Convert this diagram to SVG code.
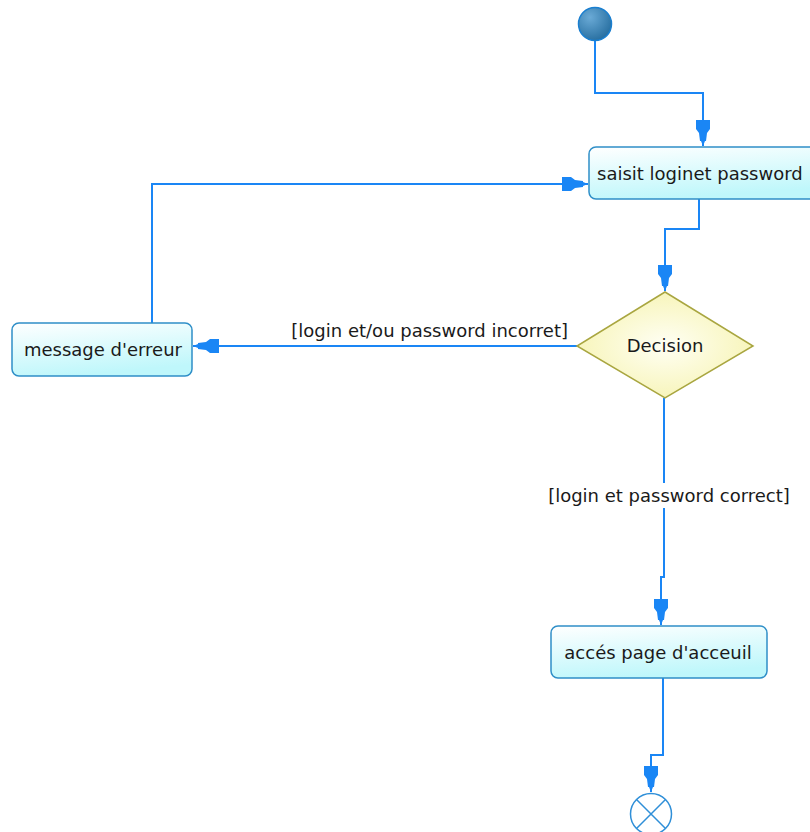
<svg xmlns="http://www.w3.org/2000/svg" width="810" height="832" viewBox="0 0 810 832">
  <defs>
    <linearGradient id="actFill" x1="0" y1="0" x2="0.3" y2="1">
      <stop offset="0" stop-color="#ffffff"/>
      <stop offset="1" stop-color="#bff7fb"/>
    </linearGradient>
    <radialGradient id="decFill" cx="0.5" cy="0.5" r="0.6">
      <stop offset="0" stop-color="#fffff4"/>
      <stop offset="1" stop-color="#f6f3b0"/>
    </radialGradient>
    <radialGradient id="startFill" cx="0.35" cy="0.3" r="0.8">
      <stop offset="0" stop-color="#6aaad6"/>
      <stop offset="1" stop-color="#226a9c"/>
    </radialGradient>
    <marker id="arrow" markerUnits="userSpaceOnUse" markerWidth="30" markerHeight="18" viewBox="-28 -9 30 18" refX="0" refY="0" orient="auto">
      <path d="M0,0 L-5,-2 L-5,-3 L-13,-4 L-17,-7 L-26,-7 L-26,7 L-17,7 L-13,4 L-5,3 L-5,2 Z" fill="#1a86f5"/>
    </marker>
    <style>
      .act { fill: url(#actFill); stroke: #2f8fc8; stroke-width: 1.5; }
      .lbl { font-family: "DejaVu Sans", "Liberation Sans", sans-serif; font-size: 18px; fill: #1a1a1a; }
      .flow { fill: none; stroke: #1a86f5; stroke-width: 2; marker-end: url(#arrow); }
    </style>
  </defs>

  <!-- connectors -->
  <g id="connectors">
    <path class="flow" d="M595,41 V93 H703 V146"/>
    <path class="flow" d="M699,199 V229 H665 V291"/>
    <path class="flow" d="M577,346 H193"/>
    <path class="flow" d="M152,323 V184 H588"/>
    <path class="flow" d="M664,398 V577 H661 V625"/>
    <path class="flow" d="M663,678 V755 H651 V792"/>
    <text class="lbl" x="568" y="337" text-anchor="end">[login et/ou password incorret]</text>
    <rect x="544" y="483" width="250" height="25" fill="#ffffff"/>
    <text class="lbl" x="669" y="502" text-anchor="middle">[login et password correct]</text>
  </g>

  <!-- initial node -->
  <g id="start">
    <circle cx="595" cy="24" r="16.5" fill="url(#startFill)" stroke="#1a7fd0" stroke-width="1.5"/>
  </g>

  <!-- activity: saisit login et password -->
  <g id="saisit">
    <rect class="act" x="589" y="147" width="230" height="52" rx="7"/>
    <text class="lbl" x="597" y="180">saisit loginet password</text>
  </g>

  <!-- decision -->
  <g id="decision">
    <polygon points="665,292 753,346 665,398 577,346" fill="url(#decFill)" stroke="#a9a640" stroke-width="1.5"/>
    <text class="lbl" x="665" y="352" text-anchor="middle">Decision</text>
  </g>

  <!-- activity: message d'erreur -->
  <g id="erreur">
    <rect class="act" x="12" y="323" width="180" height="53" rx="7"/>
    <text class="lbl" x="103" y="356" text-anchor="middle">message d'erreur</text>
  </g>

  <!-- activity: accès page d'accueil -->
  <g id="accueil">
    <rect class="act" x="551" y="626" width="216" height="52" rx="7"/>
    <text class="lbl" x="658" y="659" text-anchor="middle">accés page d'acceuil</text>
  </g>

  <!-- final node -->
  <g id="end">
    <circle cx="651" cy="814" r="20.5" fill="#ffffff" stroke="#2f8fd8" stroke-width="1.5"/>
    <path d="M636.5,799.5 L665.5,828.5 M665.5,799.5 L636.5,828.5" stroke="#2f8fd8" stroke-width="1.5"/>
  </g>
</svg>
